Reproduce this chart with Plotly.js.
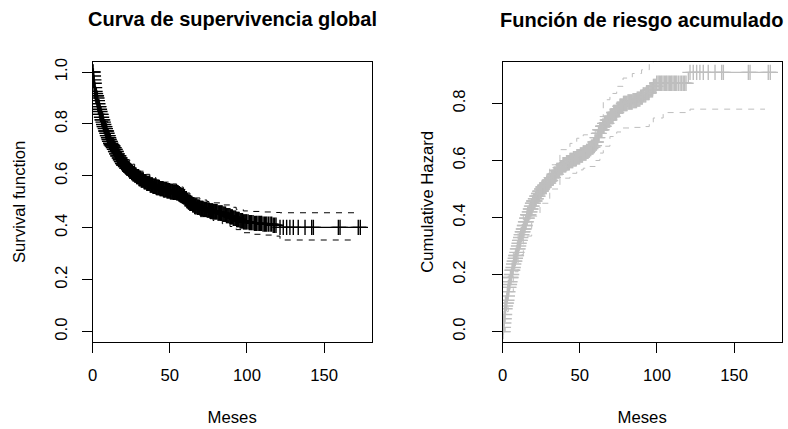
<!DOCTYPE html>
<html>
<head>
<meta charset="utf-8">
<script src="https://cdn.plot.ly/plotly-3.0.1.min.js"></script>
<style>html,body{margin:0;padding:0;background:#fff;}#chart{width:788px;height:429px;}</style>
</head>
<body>
<div id="chart"></div>
<script>
// ---- Kaplan-Meier survival (step function) ----
const survTime = [0, 0.3, 0.6, 0.9, 1.2, 1.5, 1.8, 2.1, 2.5, 2.9, 3.3, 3.7, 4.1, 4.5, 5.0, 5.5, 6.0, 6.5, 7.0, 7.5, 8.0, 8.5, 9.0, 9.5, 10.0, 10.5, 11.0, 11.5, 12.0, 12.7, 13.4, 14.0, 14.7, 15.5, 16.2, 17.0, 17.8, 18.5, 19.3, 20.1, 21.0, 22.0, 23.0, 24.0, 25.0, 26.1, 27.2, 28.5, 30.0, 31.5, 33.0, 35.0, 37.0, 39.0, 41.0, 43.4, 45.8, 48.0, 50.0, 52.2, 54.4, 55.5, 56.5, 57.6, 58.7, 59.8, 61.0, 62.0, 63.0, 64.5, 66.0, 67.8, 69.5, 71.8, 74.0, 76.0, 78.0, 81.0, 84.0, 86.5, 89.0, 91.0, 93.0, 95.3, 97.6, 101.0, 104.0, 110.0, 117.0, 121.4, 177.6];
const survVal  = [1, 0.985, 0.97, 0.957, 0.94, 0.925, 0.917, 0.909, 0.9, 0.89, 0.878, 0.867, 0.857, 0.848, 0.837, 0.826, 0.816, 0.807, 0.798, 0.79, 0.782, 0.773, 0.764, 0.755, 0.747, 0.74, 0.733, 0.726, 0.72, 0.715, 0.709, 0.702, 0.694, 0.685, 0.677, 0.669, 0.662, 0.655, 0.648, 0.642, 0.636, 0.63, 0.624, 0.618, 0.613, 0.608, 0.603, 0.597, 0.59, 0.584, 0.578, 0.571, 0.565, 0.56, 0.555, 0.551, 0.547, 0.543, 0.54, 0.537, 0.535, 0.531, 0.528, 0.524, 0.519, 0.512, 0.505, 0.499, 0.494, 0.489, 0.484, 0.479, 0.475, 0.471, 0.468, 0.465, 0.462, 0.457, 0.452, 0.447, 0.442, 0.437, 0.432, 0.427, 0.423, 0.42, 0.417, 0.414, 0.41, 0.4016, 0.4016];
const survCiTime = [0, 0.5, 0.85, 1.5, 2.3, 3.2, 4.5, 6, 7.8, 9.8, 12, 13.4, 15.5, 18.5, 21, 24, 27.2, 30, 33, 37, 41, 45.8, 50, 54.4, 56.5, 58.7, 61, 63, 66, 69.5, 74, 78, 84, 89, 93, 97.6, 104, 110, 117, 121.4, 170];
const survUpper = [1, 0.99, 0.975, 0.94, 0.925, 0.90, 0.87, 0.838, 0.809, 0.775, 0.745, 0.736, 0.711, 0.682, 0.662, 0.645, 0.631, 0.618, 0.606, 0.593, 0.584, 0.576, 0.569, 0.564, 0.557, 0.548, 0.534, 0.524, 0.515, 0.507, 0.501, 0.496, 0.488, 0.479, 0.471, 0.465, 0.463, 0.461, 0.459, 0.458, 0.458];
const survLower = [1, 0.97, 0.945, 0.90, 0.885, 0.86, 0.826, 0.792, 0.761, 0.725, 0.695, 0.684, 0.659, 0.628, 0.608, 0.591, 0.575, 0.562, 0.55, 0.537, 0.526, 0.518, 0.511, 0.506, 0.499, 0.49, 0.476, 0.464, 0.453, 0.443, 0.435, 0.428, 0.416, 0.405, 0.393, 0.381, 0.375, 0.372, 0.368, 0.353, 0.353];

// ---- Cumulative hazard (step function) ----
const hazTime = [0, 0.3, 0.6, 0.9, 1.2, 1.5, 1.8, 2.1, 2.5, 2.9, 3.3, 3.7, 4.1, 4.5, 5.0, 5.5, 6.0, 6.5, 7.0, 7.5, 8.0, 8.5, 9.0, 9.5, 10.0, 10.5, 11.0, 11.5, 12.0, 12.7, 13.4, 14.0, 14.7, 15.5, 16.2, 17.0, 17.8, 18.5, 19.3, 20.1, 21.0, 22.0, 23.0, 24.0, 25.0, 26.1, 27.2, 28.5, 30.0, 31.5, 33.0, 35.0, 37.0, 39.0, 41.0, 43.4, 45.8, 48.0, 50.0, 52.2, 54.4, 55.5, 56.5, 57.6, 58.7, 59.8, 61.0, 62.0, 63.0, 64.5, 66.0, 67.8, 69.5, 71.8, 74.0, 76.0, 78.0, 81.0, 84.0, 86.8, 89.0, 91.0, 93.0, 95.5, 97.6, 99.8, 120.3, 177.6];
const hazVal  = [0, 0.015, 0.03, 0.045, 0.06, 0.08, 0.09, 0.1, 0.11, 0.125, 0.14, 0.155, 0.165, 0.175, 0.19, 0.2, 0.215, 0.225, 0.237, 0.247, 0.257, 0.267, 0.278, 0.29, 0.3, 0.31, 0.32, 0.33, 0.34, 0.35, 0.36, 0.372, 0.385, 0.398, 0.41, 0.42, 0.43, 0.44, 0.45, 0.458, 0.466, 0.475, 0.484, 0.492, 0.5, 0.507, 0.513, 0.521, 0.53, 0.54, 0.552, 0.565, 0.575, 0.585, 0.592, 0.6, 0.606, 0.613, 0.619, 0.626, 0.632, 0.637, 0.642, 0.647, 0.652, 0.665, 0.68, 0.695, 0.708, 0.72, 0.73, 0.742, 0.754, 0.768, 0.78, 0.79, 0.80, 0.805, 0.81, 0.815, 0.822, 0.83, 0.838, 0.848, 0.86, 0.871, 0.909, 0.909];
const hazCiTime = [0, 1.5, 3.6, 6.9, 10, 13.4, 18.8, 24.2, 30.5, 37.1, 43.6, 48, 52.2, 56.6, 60, 63, 65.2, 69.5, 73.9, 78, 84, 90, 95, 97.6, 104, 121.4, 170];
const hazUpper = [0, 0.12, 0.195, 0.28, 0.345, 0.41, 0.48, 0.53, 0.585, 0.638, 0.66, 0.678, 0.69, 0.696, 0.72, 0.754, 0.813, 0.835, 0.86, 0.889, 0.905, 0.918, 0.94, 0.965, 0.985, 1.04, 1.04];
const hazLower = [0, 0.07, 0.14, 0.21, 0.27, 0.335, 0.405, 0.45, 0.5, 0.538, 0.555, 0.567, 0.573, 0.579, 0.6, 0.626, 0.65, 0.684, 0.70, 0.714, 0.716, 0.719, 0.73, 0.749, 0.768, 0.78, 0.78];

// ---- Censoring times (months) ----
const censorTime = [0, 0.2, 0.45, 0.7, 0.95, 1.2, 1.5, 1.8, 2.1, 2.4, 2.7, 3.0, 3.35, 3.7, 4.0, 4.35, 4.7, 5.05, 5.4, 5.75, 6.1, 6.45, 6.8, 7.15, 7.5, 7.85, 8.2, 8.55, 8.9, 9.25, 9.6, 9.95, 10.3, 10.65, 11.0, 11.35, 11.7, 12.05, 12.4, 12.75, 13.1, 13.45, 13.8, 14.15, 14.5, 14.85, 15.2, 15.55, 15.9, 16.25, 16.6, 16.95, 17.3, 17.65, 18.0, 18.35, 18.7, 19.05, 19.4, 19.75, 20.1, 20.5, 20.9, 21.3, 21.7, 22.1, 22.5, 22.9, 23.3, 23.7, 24.1, 24.5, 24.9, 25.3, 25.7, 26.1, 26.5, 26.9, 27.3, 27.7, 28.1, 28.5, 28.9, 29.3, 29.7,
  30.1, 30.6, 31.0, 31.5, 31.9, 32.4, 32.8, 33.3, 33.7, 34.2, 34.6, 35.1, 35.5, 36.0, 36.4, 36.9, 37.3, 37.8, 38.2, 38.7, 39.1, 39.6, 40.0, 40.5, 40.9, 41.4, 41.8, 42.3, 42.7, 43.2, 43.6, 44.1, 44.5, 45.0, 45.4, 45.9, 46.3, 46.8, 47.2, 47.7, 48.1, 48.6, 49.0, 49.5, 49.9, 50.4, 50.8, 51.3, 51.7, 52.2, 52.6, 53.1, 53.5, 54.0, 54.4, 54.9, 55.3, 55.8, 56.2, 56.7, 57.1, 57.6, 58.0, 58.5, 58.9, 59.4, 59.8, 60.3, 60.7, 61.2, 61.6, 62.1, 62.5, 63.0, 63.4, 63.9, 64.3, 64.8, 65.2, 65.7, 66.1, 66.6, 67.0, 67.5, 67.9, 68.4, 68.8, 69.3, 69.7, 70.2, 70.6, 71.1, 71.5, 72.0, 72.4, 72.9, 73.3, 73.8, 74.2, 74.7, 75.1, 75.6, 76.0, 76.5, 76.9, 77.4, 77.8, 78.3, 78.7, 79.2, 79.6, 80.1, 80.6, 81.2, 81.7, 82.3, 82.8, 83.4, 83.9, 84.5, 85.0, 85.6, 86.1, 86.7, 87.2, 87.8, 88.3, 88.9, 89.4, 90.0, 90.5, 91.1, 91.6, 92.2, 92.7, 93.3, 93.8, 94.4, 94.9, 95.5, 96.0, 96.6, 97.1, 97.7, 98.2, 98.8, 99.3, 99.8,
  100.7, 101.5, 102.3, 103.0, 103.9, 104.8, 105.6, 106.3, 107.2, 108.0, 108.8, 109.5, 110.4, 111.3, 112.0, 112.8, 113.9, 115.0, 116.0, 117.0, 117.9, 118.8, 121.4, 123.5, 125.7, 127.8, 130.0, 133.2, 137.6, 141.9, 143.0, 159.2, 160.3, 172.1, 173.4];

// ---- axis ticks ----
const xTicks = [0, 50, 100, 150];
const ySurvTicks = [0, 0.2, 0.4, 0.6, 0.8, 1.0];
const ySurvLabels = ["0.0", "0.2", "0.4", "0.6", "0.8", "1.0"];
const yHazTicks = [0, 0.2, 0.4, 0.6, 0.8];
const yHazLabels = ["0.0", "0.2", "0.4", "0.6", "0.8"];

function stepAt(ts, vs, t) {
  let v = vs[0];
  for (let i = 0; i < ts.length; i++) { if (ts[i] <= t) v = vs[i]; }
  return v;
}
const censorSurv = censorTime.map(t => stepAt(survTime, survVal, t));
const censorHaz = censorTime.map(t => stepAt(hazTime, hazVal, t));

const GRAY = '#BEBEBE';
const FONT = 'Liberation Sans, Arial, Helvetica, sans-serif';

const traces = [
  {x: survCiTime, y: survUpper, type: 'scatter', mode: 'lines', line: {shape: 'hv', color: 'black', width: 1, dash: '6px,6px'}, xaxis: 'x', yaxis: 'y', hoverinfo: 'skip'},
  {x: survCiTime, y: survLower, type: 'scatter', mode: 'lines', line: {shape: 'hv', color: 'black', width: 1, dash: '6px,6px'}, xaxis: 'x', yaxis: 'y', hoverinfo: 'skip'},
  {x: survTime, y: survVal, type: 'scatter', mode: 'lines', line: {shape: 'hv', color: 'black', width: 1.3}, xaxis: 'x', yaxis: 'y'},
  {x: censorTime, y: censorSurv, type: 'scatter', mode: 'markers', marker: {symbol: 'cross-thin', size: 11, color: 'black', line: {color: 'black', width: 1.4}}, xaxis: 'x', yaxis: 'y'},
  {x: hazCiTime, y: hazUpper, type: 'scatter', mode: 'lines', line: {shape: 'hv', color: GRAY, width: 1, dash: '6px,6px'}, xaxis: 'x2', yaxis: 'y2', hoverinfo: 'skip'},
  {x: hazCiTime, y: hazLower, type: 'scatter', mode: 'lines', line: {shape: 'hv', color: GRAY, width: 1, dash: '6px,6px'}, xaxis: 'x2', yaxis: 'y2', hoverinfo: 'skip'},
  {x: hazTime, y: hazVal, type: 'scatter', mode: 'lines', line: {shape: 'hv', color: GRAY, width: 1.3}, xaxis: 'x2', yaxis: 'y2'},
  {x: censorTime, y: censorHaz, type: 'scatter', mode: 'markers', marker: {symbol: 'cross-thin', size: 11, color: GRAY, line: {color: GRAY, width: 1.4}}, xaxis: 'x2', yaxis: 'y2'}
];

const axBase = {
  showgrid: false, zeroline: false, showline: true, mirror: true,
  linecolor: 'black', linewidth: 1, ticks: 'outside', ticklen: 10, tickwidth: 1, tickcolor: 'black',
  tickfont: {family: FONT, size: 16.7, color: 'black'}, fixedrange: true
};

const layout = {
  width: 788, height: 429,
  margin: {l: 0, r: 0, t: 0, b: 0},
  paper_bgcolor: 'white', plot_bgcolor: 'white',
  showlegend: false,
  font: {family: FONT, size: 16.7, color: 'black'},
  xaxis: Object.assign({}, axBase, {domain: [0.1176, 0.4717], anchor: 'y', range: [0, 180.8], tickvals: xTicks, ticklabelstandoff: 8,
    title: {text: 'Meses', font: {family: FONT, size: 16.7, color: 'black'}, standoff: 27}}),
  yaxis: Object.assign({}, axBase, {domain: [0.2028, 0.8562], anchor: 'x', range: [-0.04, 1.04], tickvals: ySurvTicks, ticktext: ySurvLabels, tickangle: -90, ticklabelstandoff: 8,
    title: {text: 'Survival function', font: {family: FONT, size: 16.7, color: 'black'}, standoff: 22}}),
  xaxis2: Object.assign({}, axBase, {domain: [0.6379, 0.9920], anchor: 'y2', range: [0, 180.8], tickvals: xTicks, ticklabelstandoff: 8,
    title: {text: 'Meses', font: {family: FONT, size: 16.7, color: 'black'}, standoff: 27}}),
  yaxis2: Object.assign({}, axBase, {domain: [0.2028, 0.8562], anchor: 'x2', range: [-0.0364, 0.9464], tickvals: yHazTicks, ticktext: yHazLabels, tickangle: -90, ticklabelstandoff: 20,
    title: {text: 'Cumulative Hazard', font: {family: FONT, size: 16.7, color: 'black'}, standoff: 12}}),
  annotations: [
    {text: '<b>Curva de supervivencia global</b>', xref: 'paper', yref: 'paper', x: 0.2947, y: 1 - 19.5/429, xanchor: 'center', yanchor: 'middle', showarrow: false, font: {family: FONT, size: 20, color: 'black'}},
    {text: '<b>Función de riesgo acumulado</b>', xref: 'paper', yref: 'paper', x: 0.8140, y: 1 - 20/429, xanchor: 'center', yanchor: 'middle', showarrow: false, font: {family: FONT, size: 20, color: 'black'}}
  ]
};

Plotly.newPlot('chart', traces, layout, {staticPlot: true, displayModeBar: false});
</script>
</body>
</html>
